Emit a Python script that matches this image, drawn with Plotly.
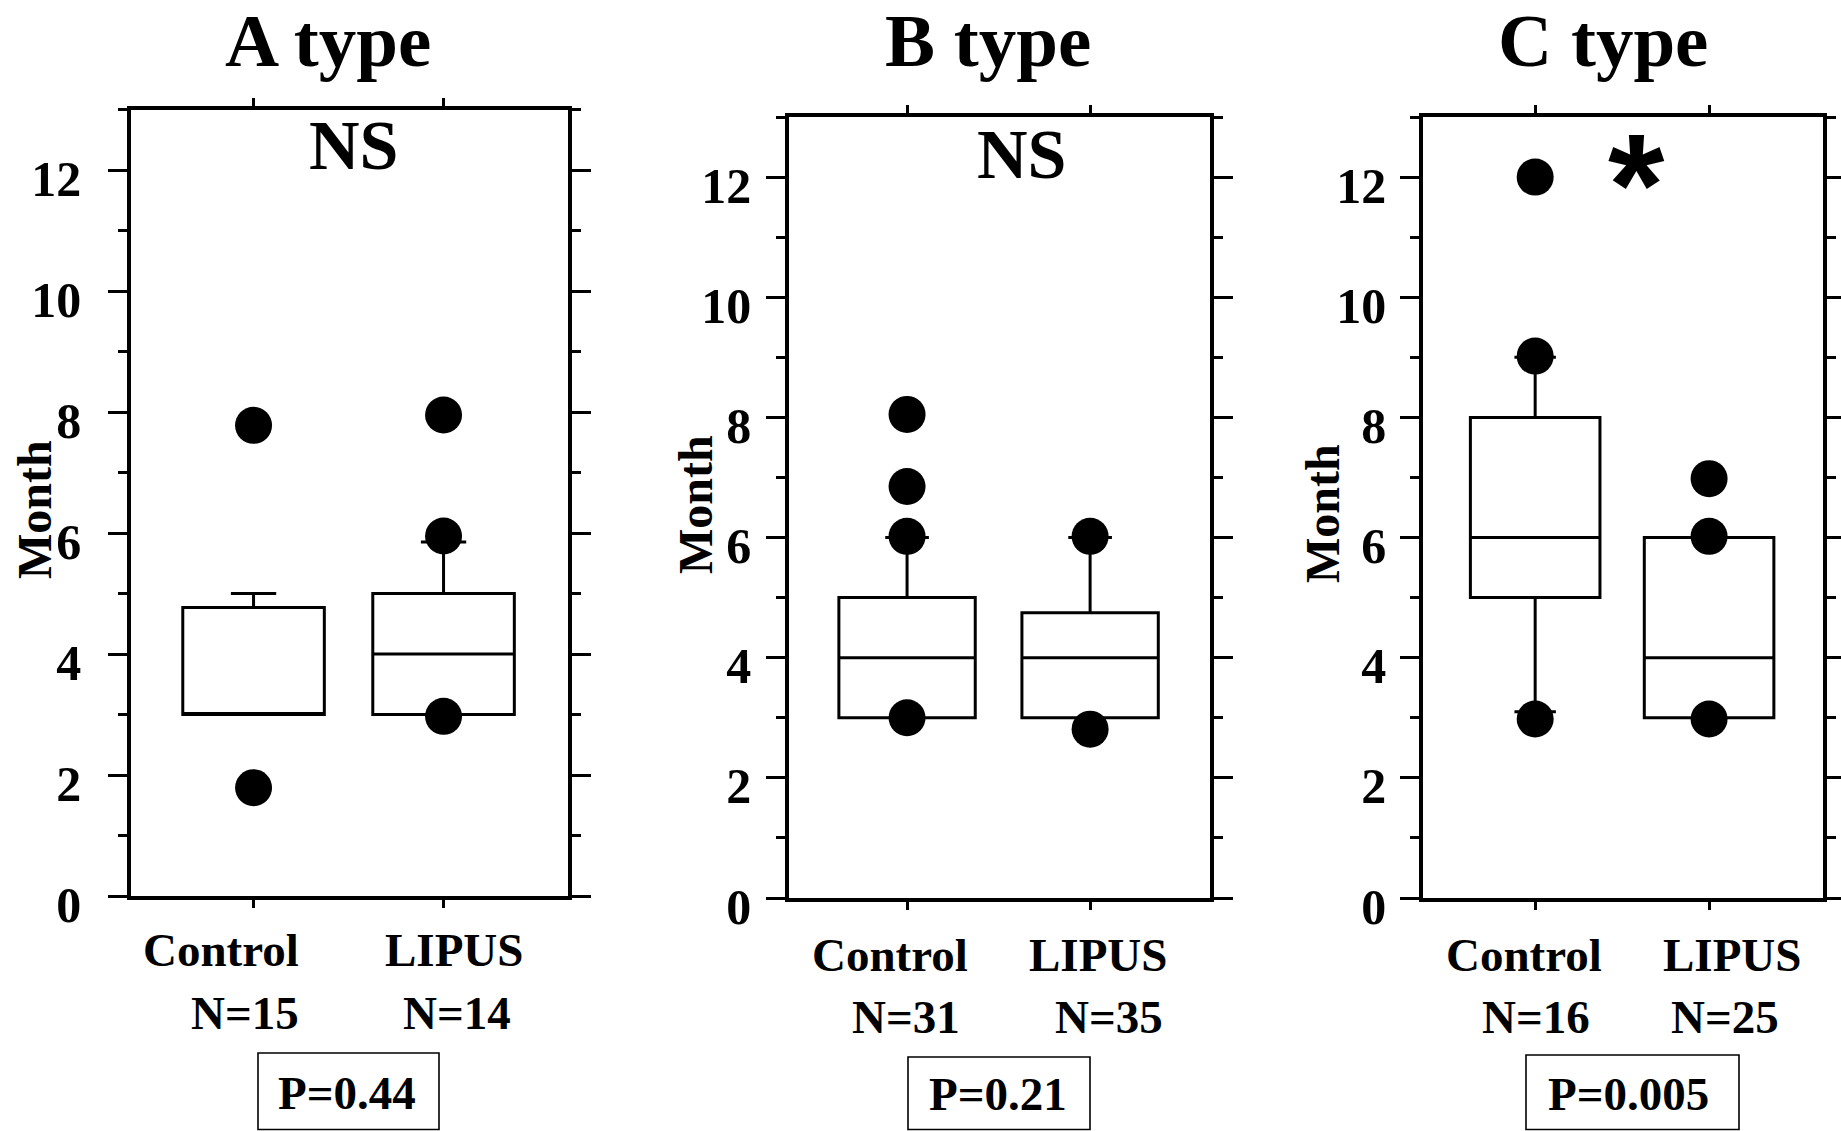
import plotly.graph_objects as go

# ---- data -------------------------------------------------------------
panels = ["A type", "B type", "C type"]
groups = ["Control", "LIPUS"]
n_labels = [["N=15", "N=14"], ["N=31", "N=35"], ["N=16", "N=25"]]
p_labels = ["P=0.44", "P=0.21", "P=0.005"]
sig_labels = ["NS", "NS", "*"]

# box statistics per panel: [Control, LIPUS]
q1 = [[3.0, 3.0], [3.0, 3.0], [5.0, 3.0]]
median = [[3.0, 4.0], [4.0, 4.0], [6.0, 4.0]]
q3 = [[4.77, 5.0], [5.0, 4.75], [8.0, 6.0]]
lower_whisker = [[3.0, 3.0], [3.0, 3.0], [3.1, 3.0]]
upper_whisker = [[5.0, 5.85], [6.0, 6.0], [9.0, 6.0]]

# points drawn beyond / at the whiskers
points_control = [[7.78, 1.79], [8.05, 6.85, 6.02, 3.0], [12.0, 9.02, 2.98]]
points_lipus = [[7.95, 5.95, 2.97], [6.02, 2.81], [6.98, 6.02, 2.98]]

y_ticks = [0, 2, 4, 6, 8, 10, 12]

# ---- layout geometry (pixels in a 1841 x 1131 page) ---------------------
W, H = 1841, 1131
SERIF = "Liberation Serif"

frames = [  # left, right, top(y=13), bottom(y=0)
    (131, 568, 109.5, 896),
    (789, 1210, 117, 898),
    (1423, 1823, 117, 898),
]
label_standoff = [17, 5, 4]

title_x = [328, 988, 1603]
sig_pos = [(353, 145), (1021, 154), (1636, 185)]
month_pos = [(35, 510), (695, 505), (1322, 514)]
group_y = [(950, 1013), (955, 1017), (955, 1017)]
group_shift = [[(-33, -9), (10, 13)], [(-17, -1), (8, 19)], [(-11, 1), (23, 16)]]
pbox = [(258, 439, 1053), (908, 1090, 1057), (1526, 1739, 1055)]
ptext = [(347, 1093), (998, 1094), (1628, 1094)]


def px(x):
    return x / W


def py(y):
    return 1 - y / H


fig = go.Figure()
annotations = []
shapes = []

for i in range(3):
    sfx = "" if i == 0 else str(i + 1)
    xa, ya = "x" + sfx, "y" + sfx

    fig.add_trace(go.Box(
        x=[0, 1],
        q1=q1[i], median=median[i], q3=q3[i],
        lowerfence=lower_whisker[i], upperfence=upper_whisker[i],
        width=0.745, whiskerwidth=0.32,
        fillcolor="white",
        line=dict(color="black", width=3),
        boxpoints=False, hoverinfo="skip",
        xaxis=xa, yaxis=ya, showlegend=False,
    ))
    xs = [0] * len(points_control[i]) + [1] * len(points_lipus[i])
    ys = points_control[i] + points_lipus[i]
    fig.add_trace(go.Scatter(
        x=xs, y=ys, mode="markers",
        marker=dict(color="black", size=37, line=dict(width=0)),
        xaxis=xa, yaxis=ya, showlegend=False, hoverinfo="skip",
    ))

    l, r, t, b = frames[i]
    fig.layout["xaxis" + sfx] = dict(
        domain=[px(l), px(r)], range=[-0.645, 1.655], automargin=False,
        anchor=ya, showline=True, linewidth=3.5, linecolor="black",
        mirror="ticks", ticks="outside", ticklen=8, tickwidth=3,
        tickcolor="black", tickvals=[0, 1], showticklabels=False,
        showgrid=False, zeroline=False, fixedrange=True,
    )
    fig.layout["yaxis" + sfx] = dict(
        domain=[py(b), py(t)], range=[0, 13], automargin=False,
        anchor=xa, showline=True, linewidth=3.5, linecolor="black",
        mirror="ticks", ticks="outside", ticklen=19, tickwidth=3,
        tickcolor="black", tickvals=y_ticks,
        tickfont=dict(family=SERIF, size=50, color="black", weight="bold"),
        ticklabelstandoff=label_standoff[i], ticklabelshift=8,
        minor=dict(ticks="outside", ticklen=9, tickwidth=3, dtick=1,
                   tick0=0, tickcolor="black", showgrid=False),
        showgrid=False, zeroline=False, fixedrange=True,
    )

    # panel title
    annotations.append(dict(
        text=panels[i], xref="paper", yref="paper",
        x=px(title_x[i]), y=1, yshift=3,
        xanchor="center", yanchor="top", showarrow=False,
        font=dict(family=SERIF, size=75, color="black", weight="bold"),
    ))
    # significance mark
    if sig_labels[i] == "*":
        sig_font = dict(family="Liberation Sans", size=145, color="black", weight="bold")
    else:
        sig_font = dict(family=SERIF, size=70, color="black", weight="bold")
    annotations.append(dict(
        text=sig_labels[i], xref="paper", yref="paper",
        x=px(sig_pos[i][0]), y=py(sig_pos[i][1]),
        xanchor="center", yanchor="middle", showarrow=False, font=sig_font,
    ))
    # y-axis title
    annotations.append(dict(
        text="Month", xref="paper", yref="paper",
        x=px(month_pos[i][0]), y=py(month_pos[i][1]),
        xanchor="center", yanchor="middle", textangle=-90, showarrow=False,
        font=dict(family=SERIF, size=48, color="black", weight="bold"),
    ))
    # group names and sample sizes
    for j, g in enumerate(groups):
        annotations.append(dict(
            text=g, xref=xa, yref="paper", x=j, y=py(group_y[i][0]),
            xshift=group_shift[i][j][0],
            xanchor="center", yanchor="middle", showarrow=False,
            font=dict(family=SERIF, size=47, color="black", weight="bold"),
        ))
        annotations.append(dict(
            text=n_labels[i][j], xref=xa, yref="paper", x=j, y=py(group_y[i][1]),
            xshift=group_shift[i][j][1],
            xanchor="center", yanchor="middle", showarrow=False,
            font=dict(family=SERIF, size=47, color="black", weight="bold"),
        ))
    # p-value box
    x0, x1, top = pbox[i]
    shapes.append(dict(
        type="rect", xref="paper", yref="paper",
        x0=px(x0), x1=px(x1), y0=py(1129.5), y1=py(top),
        line=dict(color="black", width=1.6), fillcolor="rgba(0,0,0,0)",
    ))
    annotations.append(dict(
        text=p_labels[i], xref="paper", yref="paper",
        x=px(ptext[i][0]), y=py(ptext[i][1]),
        xanchor="center", yanchor="middle", showarrow=False,
        font=dict(family=SERIF, size=47, color="black", weight="bold"),
    ))

fig.update_layout(
    width=W, height=H,
    margin=dict(l=0, r=0, t=0, b=0, autoexpand=False),
    paper_bgcolor="white", plot_bgcolor="white",
    showlegend=False,
    annotations=annotations, shapes=shapes,
    font=dict(family=SERIF, color="black"),
)

fig.write_html("out.html")
